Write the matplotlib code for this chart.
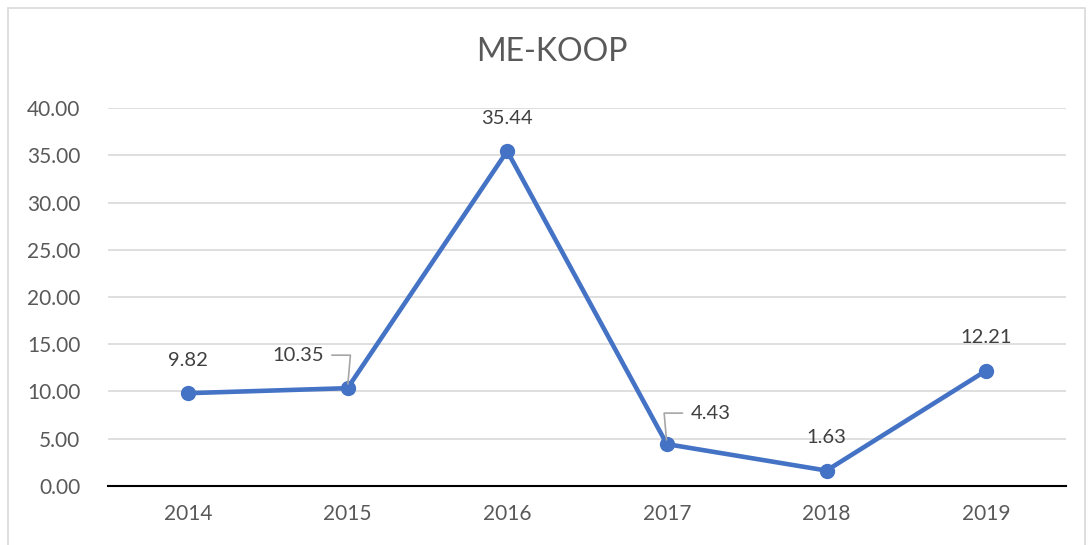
import matplotlib.pyplot as plt
from matplotlib.patches import Rectangle

# Data
years = ["2014", "2015", "2016", "2017", "2018", "2019"]
values = [9.82, 10.35, 35.44, 4.43, 1.63, 12.21]
yticks = [0, 5, 10, 15, 20, 25, 30, 35, 40]

plt.rcParams['font.family'] = ['Lato', 'DejaVu Sans']

fig = plt.figure(figsize=(10.9, 5.45), dpi=100)
ax = fig.add_axes([0.0991, 0.1083, 0.8789, 0.6935])

# chart border
fig.patches.append(Rectangle((8 / 1090, -0.01), 1077 / 1090, 1 - 8 / 545 + 0.01,
                             transform=fig.transFigure, fill=False,
                             edgecolor="#D9D9D9", linewidth=1.2))

x = list(range(len(years)))
ax.plot(x, values, color="#4472C4", linewidth=3.3, marker="o", markersize=10,
        zorder=3, solid_capstyle="round")

ax.set_xlim(-0.5, 5.5)
ax.set_ylim(0, 40)
ax.set_yticks(yticks)
ax.set_yticklabels([f"{v:.2f}" for v in yticks])
ax.set_xticks(x)
ax.set_xticklabels(years)
ax.grid(axis="y", color="#D9D9D9", linewidth=1.2)
ax.set_axisbelow(True)
for s in ["top", "right", "left"]:
    ax.spines[s].set_visible(False)
ax.spines["bottom"].set_color("black")
ax.spines["bottom"].set_linewidth(1.5)
ax.spines["bottom"].set_zorder(2)
ax.tick_params(axis="both", length=0, labelsize=15, colors="#595959")
ax.tick_params(axis="y", pad=20)
ax.tick_params(axis="x", pad=13)

# title centred on the whole chart
fig.text(0.506, 0.905, "ME-KOOP", fontsize=23, color="#595959", ha="center", va="center")

# data labels
label_kw = dict(fontsize=14.5, color="#404040", textcoords="offset pixels")
for i, v in enumerate(values):
    if i == 1:
        ax.annotate(f"{v:.2f}", xy=(i, v), xytext=(-24, 33), ha="right", va="center",
                    arrowprops=dict(arrowstyle="-", color="#A6A6A6", lw=1.2,
                                    connectionstyle="angle,angleA=0,angleB=85,rad=0",
                                    relpos=(1.0, 0.5), shrinkA=4, shrinkB=3),
                    **label_kw)
    elif i == 3:
        ax.annotate(f"{v:.2f}", xy=(i, v), xytext=(24, 31), ha="left", va="center",
                    arrowprops=dict(arrowstyle="-", color="#A6A6A6", lw=1.2,
                                    connectionstyle="angle,angleA=0,angleB=95,rad=0",
                                    relpos=(0.0, 0.5), shrinkA=4, shrinkB=3),
                    **label_kw)
    else:
        ax.annotate(f"{v:.2f}", xy=(i, v), xytext=(0, 33), ha="center", va="center",
                    **label_kw)

fig.savefig("out.png", dpi=100)
